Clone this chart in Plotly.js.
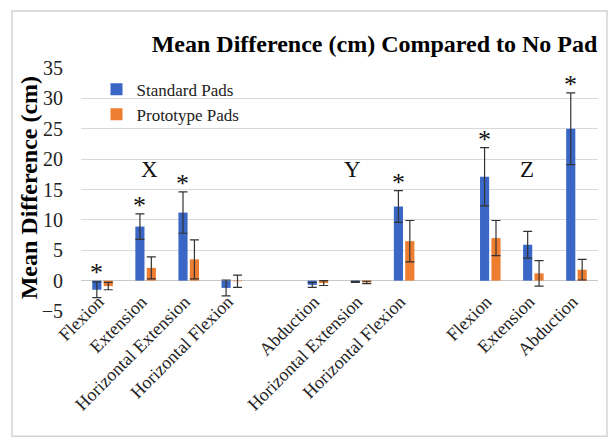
<!DOCTYPE html>
<html>
<head>
<meta charset="utf-8">
<script src="https://cdn.plot.ly/plotly-3.0.1.min.js"></script>
<style>
  html, body { margin: 0; padding: 0; background: #fff; }
  #chart { width: 611px; height: 437px; }
</style>
</head>
<body>
<div id="chart"></div>
<script>
// Movement directions, grouped by plane (X, Y, Z); empty slots separate the groups
const tickLabels = ["Flexion", "Extension", "Horizontal Extension", "Horizontal Flexion", "",
                    "Abduction", "Horizontal Extension", "Horizontal Flexion", "",
                    "Flexion", "Extension", "Abduction"];
const slots = tickLabels.map((_, i) => i);

// Mean difference (cm) versus no pad, with standard deviation
const standardMean = [-1.5, 8.9, 11.2, -1.2, null, -0.7, -0.2, 12.2, null, 17.1, 5.9, 25.0];
const standardSD   = [1.3, 2.1, 3.4, 1.3, null, 0.4, 0.1, 2.6, null, 4.8, 2.2, 5.9];
const prototypeMean = [-0.9, 2.1, 3.5, -0.1, null, -0.4, -0.3, 6.5, null, 7.0, 1.2, 1.8];
const prototypeSD   = [0.6, 1.8, 3.2, 1.0, null, 0.4, 0.2, 3.4, null, 2.9, 2.1, 1.7];

// Standard-pad results marked as significant
const significant = [true, true, true, false, false, false, false, true, false, true, false, true];

// Plane labels and where they sit
const planeNames = ["X", "Y", "Z"];
const planeX = [1.1, 5.8, 9.85];
const planeY = [18.3, 18.3, 18.3];

const serif = "Liberation Serif, Times New Roman, serif";

const traces = [
  {
    type: "bar", name: "Standard Pads", x: slots, y: standardMean,
    marker: { color: "#3a67c6" },
    error_y: { type: "data", array: standardSD, visible: true, color: "#333", thickness: 1.2, width: 4.5 }
  },
  {
    type: "bar", name: "Prototype Pads", x: slots, y: prototypeMean,
    marker: { color: "#ed7d31" },
    error_y: { type: "data", array: prototypeSD, visible: true, color: "#333", thickness: 1.2, width: 4.5 }
  }
];

const annotations = [];
// Vertical axis title
annotations.push({
  x: -0.1, y: 0.506, xref: "paper", yref: "paper", text: "Mean Difference (cm)",
  showarrow: false, textangle: -90, xanchor: "center", yanchor: "middle",
  font: { family: serif, size: 24, color: "#000", weight: "bold" }
});
planeNames.forEach((p, i) => annotations.push({
  x: planeX[i], y: planeY[i], xref: "x", yref: "y", text: p, showarrow: false,
  font: { family: serif, size: 23, color: "#111" }
}));
significant.forEach((s, i) => {
  if (!s) return;
  const top = Math.max(standardMean[i] + standardSD[i], 0);
  annotations.push({
    x: slots[i], y: top, xref: "x", yref: "y", text: "*", showarrow: false,
    xshift: -6, yanchor: "bottom", yshift: -8,
    font: { family: serif, size: 26, color: "#111" }
  });
});

const layout = {
  width: 611, height: 437,
  margin: { l: 81, r: 13, t: 68, b: 126 },
  paper_bgcolor: "#fff", plot_bgcolor: "#fff",
  barmode: "group", bargap: 0.47, bargroupgap: 0.2,
  showlegend: true,
  legend: {
    x: 0.03, y: 0.985, xanchor: "left", yanchor: "top",
    bgcolor: "rgba(0,0,0,0)", itemwidth: 30, tracegroupgap: 0,
    font: { family: serif, size: 17, color: "#222" }
  },
  title: {
    text: "Mean Difference (cm) Compared to No Pad",
    x: 0.613, xanchor: "center", y: 0.9, yanchor: "middle",
    font: { family: serif, size: 24, color: "#000", weight: "bold" }
  },
  xaxis: {
    range: [-0.5, 11.5], tickvals: slots, ticktext: tickLabels,
    tickangle: -45, anchor: "free", position: 0.1, ticklabelshift: -4,
    showgrid: false, zeroline: false, showline: false, ticks: "",
    tickfont: { family: serif, size: 18, color: "#222" }
  },
  yaxis: {
    range: [-5, 35], dtick: 5, tick0: 0,
    showgrid: true, gridcolor: "#d9d9d9", gridwidth: 1,
    zeroline: true, zerolinecolor: "#c8c8c8", zerolinewidth: 1,
    showline: false, ticks: "", ticklabelstandoff: 17,
    tickfont: { family: serif, size: 20, color: "#222" }
  },
  annotations: annotations,
  shapes: [{
    type: "rect", xref: "paper", yref: "paper",
    x0: -0.1335, x1: 1.0174, y0: -0.515, y1: 1.2346,
    line: { color: "#d4d4d4", width: 1.5 }, fillcolor: "rgba(0,0,0,0)", layer: "below"
  }]
};

Plotly.newPlot("chart", traces, layout, { displayModeBar: false, staticPlot: true });
</script>
</body>
</html>
